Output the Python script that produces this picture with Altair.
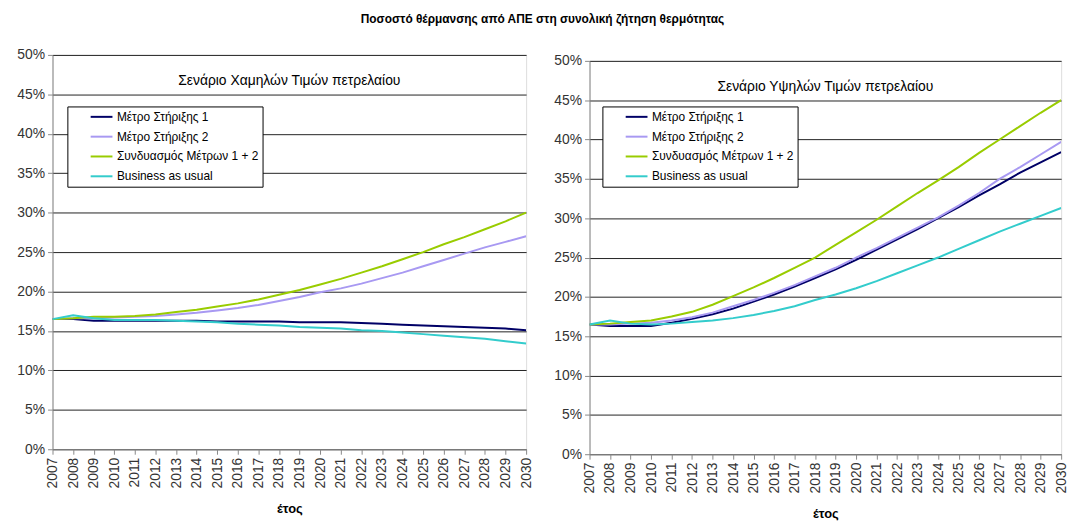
import altair as alt
import pandas as pd

years = list(range(2007, 2031))
series_names = ["Μέτρο Στήριξης 1", "Μέτρο Στήριξης 2", "Συνδυασμός Μέτρων 1 + 2", "Business as usual"]
series_colors = ["#000066", "#a899f2", "#99cc00", "#33cccc"]

# Low oil price scenario (left)
low_m1 = [16.5, 16.5, 16.3, 16.3, 16.3, 16.3, 16.3, 16.3, 16.2, 16.2, 16.2, 16.2, 16.1, 16.1, 16.1, 16.0, 15.9, 15.8, 15.7, 15.6, 15.5, 15.4, 15.3, 15.1]
low_m2 = [16.5, 16.6, 16.6, 16.7, 16.8, 16.9, 17.1, 17.3, 17.6, 17.9, 18.3, 18.8, 19.3, 19.9, 20.4, 21.0, 21.7, 22.4, 23.2, 24.0, 24.8, 25.6, 26.3, 27.0]
low_comb = [16.5, 16.6, 16.8, 16.8, 16.9, 17.1, 17.4, 17.7, 18.1, 18.5, 19.0, 19.6, 20.2, 20.9, 21.6, 22.4, 23.2, 24.1, 25.0, 26.0, 26.9, 27.9, 28.9, 30.0]
low_bau = [16.5, 17.0, 16.6, 16.4, 16.4, 16.4, 16.3, 16.2, 16.1, 15.9, 15.8, 15.7, 15.5, 15.4, 15.3, 15.1, 15.0, 14.8, 14.6, 14.4, 14.2, 14.0, 13.7, 13.4]

# High oil price scenario (right)
high_m1 = [16.5, 16.3, 16.3, 16.3, 16.7, 17.2, 17.8, 18.5, 19.4, 20.3, 21.3, 22.4, 23.5, 24.7, 26.0, 27.3, 28.6, 30.0, 31.4, 32.9, 34.3, 35.8, 37.1, 38.4]
high_m2 = [16.5, 16.5, 16.6, 16.7, 17.0, 17.4, 18.0, 18.8, 19.6, 20.5, 21.5, 22.6, 23.7, 25.0, 26.2, 27.5, 28.8, 30.1, 31.6, 33.2, 35.0, 36.5, 38.1, 39.7]
high_comb = [16.5, 16.6, 16.8, 17.0, 17.5, 18.1, 19.0, 20.1, 21.2, 22.4, 23.7, 25.0, 26.6, 28.2, 29.8, 31.5, 33.2, 34.8, 36.5, 38.3, 40.0, 41.7, 43.4, 45.0]
high_bau = [16.5, 17.0, 16.6, 16.5, 16.6, 16.8, 17.0, 17.3, 17.7, 18.2, 18.8, 19.6, 20.3, 21.1, 22.0, 23.0, 24.0, 25.0, 26.1, 27.2, 28.3, 29.3, 30.3, 31.3]

y_ticks = [0, 0.05, 0.10, 0.15, 0.20, 0.25, 0.30, 0.35, 0.40, 0.45, 0.50]

main_title = "Ποσοστό θέρμανσης από ΑΠΕ στη συνολική ζήτηση θερμότητας"
left_title = "Σενάριο Χαμηλών Τιμών πετρελαίου"
right_title = "Σενάριο Υψηλών Τιμών πετρελαίου"
x_title = "έτος"

FONT = "Liberation Sans"


def make_df(lists):
    rows = []
    for name, vals in zip(series_names, lists):
        for yr, v in zip(years, vals):
            rows.append({"year": yr, "value": v / 100.0, "series": name})
    return pd.DataFrame(rows)


def panel(df, title, w, h, leg_x, leg_y):
    lines = alt.Chart(df).mark_line(strokeWidth=2, clip=True).encode(
        x=alt.X("year:Q",
                scale=alt.Scale(domain=[2007, 2030], nice=False, zero=False),
                axis=alt.Axis(title=x_title, values=years, format="d", labelAngle=270,
                              grid=False, tickSize=5, labelFontSize=14, labelPadding=3,
                              titleFontSize=13, titleFontWeight="bold", titlePadding=15,
                              labelColor="#333", titleColor="#000", domainColor="#888",
                              tickColor="#888", labelFont=FONT, titleFont=FONT)),
        y=alt.Y("value:Q",
                scale=alt.Scale(domain=[0, 0.5], nice=False),
                axis=alt.Axis(title=None, values=y_ticks, format=".0%", grid=True,
                              gridColor="#222", gridWidth=1, tickSize=5,
                              labelFontSize=14, labelColor="#333", labelFont=FONT,
                              domainColor="#888", tickColor="#888", labelPadding=3)),
        color=alt.Color("series:N",
                        scale=alt.Scale(domain=series_names, range=series_colors),
                        legend=alt.Legend(title=None, orient="none", legendX=leg_x, legendY=leg_y,
                                          fillColor="white", strokeColor="#000", padding=4,
                                          symbolType="M-2,0L2,0", symbolSize=121, symbolStrokeWidth=2,
                                          symbolOffset=24, labelFontSize=12, labelFont=FONT,
                                          labelColor="#000", rowPadding=7, labelOffset=9,
                                          labelLimit=300)),
    )
    ttl = alt.Chart(pd.DataFrame({"t": [title]})).mark_text(
        font=FONT, fontSize=14, color="#000", align="center", baseline="middle"
    ).encode(text="t:N", x=alt.value(w / 2), y=alt.value(26))
    return alt.layer(lines, ttl).properties(width=w, height=h)


left = panel(make_df([low_m1, low_m2, low_comb, low_bau]), left_title, 478, 398, 15, 52)
right = panel(make_df([high_m1, high_m2, high_comb, high_bau]), right_title, 476, 397, 13, 52)

blank = alt.Chart(pd.DataFrame({"t": [""]})).mark_text(opacity=0).encode(
    text="t:N", x=alt.value(0), y=alt.value(0)
).properties(width=476, height=1, view=alt.ViewBackground(stroke="transparent"))

right_col = alt.vconcat(blank, right, spacing=-8)

chart = alt.hconcat(left, right_col, spacing=19).resolve_scale(color="independent").properties(
    title=alt.TitleParams(main_title, fontSize=12, fontWeight="bold", font=FONT, anchor="middle",
                          color="#000", offset=22),
    padding={"left": 16, "top": 10, "right": 8, "bottom": 0},
).configure_view(stroke="#999", strokeWidth=1).configure(background="white")

chart.save("out.html", embed_options={"renderer": "svg", "actions": False})
